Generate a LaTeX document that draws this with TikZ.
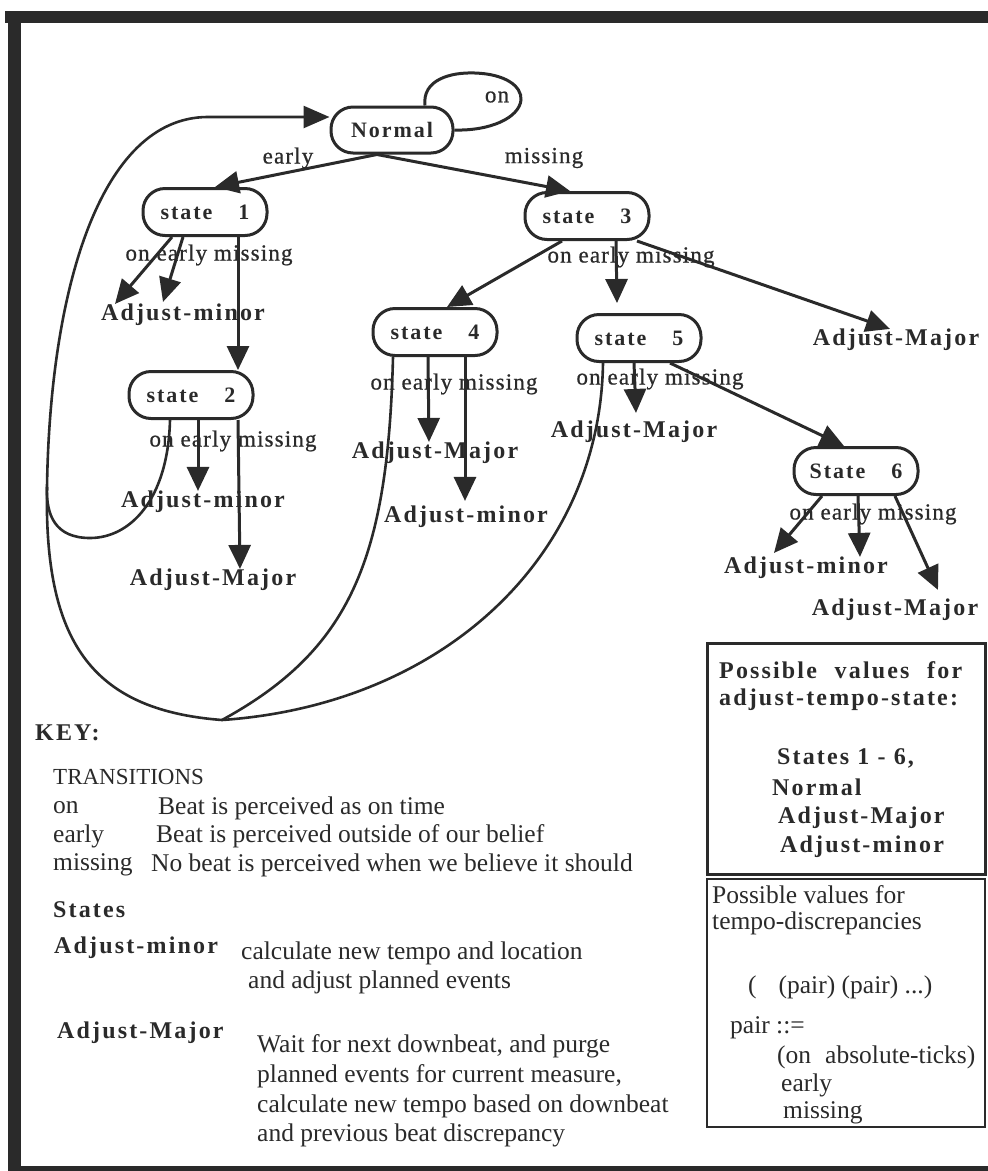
\documentclass[tikz,border=0pt]{standalone}
\usepackage{fontspec}
\setmainfont{Liberation Serif}
\newfontfamily\lblfont[LetterSpace=9]{Liberation Serif}
\newfontfamily\trfont[LetterSpace=5,FakeBold=0.7]{Liberation Serif}
\usetikzlibrary{arrows.meta}
\definecolor{ink}{HTML}{2A2A2A}

\begin{document}
\begin{tikzpicture}[x=1pt,y=-1pt,
  stbox/.style={draw=ink, line width=3pt, rounded corners=22pt,
    minimum width=124pt, minimum height=47pt, inner sep=0pt, text=ink,
    font=\lblfont\bfseries\fontsize{22}{25}\selectfont},
  outlbl/.style={inner sep=0pt, text=ink,
    font=\lblfont\bfseries\fontsize{24}{27}\selectfont},
  trlbl/.style={inner sep=0pt, text=ink,
    font=\trfont\fontsize{23}{26}\selectfont},
  body/.style={inner sep=0pt, anchor=west, text=ink,
    font=\fontsize{25.5}{28}\selectfont},
  keyhead/.style={inner sep=0pt, anchor=west, text=ink,
    font=\lblfont\bfseries\fontsize{24}{27}\selectfont},
  trans/.style={draw=ink, line width=3pt, -{Triangle[length=24pt,width=22pt]}},
  ret/.style={draw=ink, line width=2.6pt},
  valbox/.style={draw=ink, inner sep=0pt, minimum width=278pt}
]
\useasboundingbox (0,0) rectangle (988,1171);

% heavy frame
\fill[ink] (5,11) rectangle (988,23);
\fill[ink] (8,11) rectangle (21,1171);
\fill[ink] (8,1166) rectangle (988,1171);

% states
\node[stbox, minimum width=122pt, minimum height=46pt] (normal) at (392,130) {Normal};
\node[stbox] (s1) at (205,212) {state\hspace{26pt}1};
\node[stbox] (s2) at (191,395) {state\hspace{26pt}2};
\node[stbox] (s3) at (587,216) {state\hspace{26pt}3};
\node[stbox] (s4) at (435,332) {state\hspace{26pt}4};
\node[stbox] (s5) at (639,338) {state\hspace{26pt}5};
\node[stbox] (s6) at (856,471) {State\hspace{26pt}6};

% transition labels
\node[trlbl] (lon) at (497,97) {on};
\node[trlbl] (learly) at (288,158) {early};
\node[trlbl] (lmiss) at (544,158) {missing};
\node[trlbl] (t1) at (209,255) {on early missing};
\node[trlbl] (t2) at (233,441) {on early missing};
\node[trlbl] (t3) at (631,257) {on early missing};
\node[trlbl] (t4) at (454,384) {on early missing};
\node[trlbl] (t5) at (660,379) {on early missing};
\node[trlbl] (t6) at (873,514) {on early missing};

% outcomes
\node[outlbl] (a1) at (183,315) {Adjust-minor};
\node[outlbl] (a2m) at (203,502) {Adjust-minor};
\node[outlbl] (a2M) at (213,580) {Adjust-Major};
\node[outlbl] (a3M) at (896,340) {Adjust-Major};
\node[outlbl] (a4M) at (435,453) {Adjust-Major};
\node[outlbl] (a4m) at (466,517) {Adjust-minor};
\node[outlbl] (a5M) at (634,432) {Adjust-Major};
\node[outlbl] (a6m) at (806,568) {Adjust-minor};
\node[outlbl] (a6M) at (895,610) {Adjust-Major};

% Normal
\draw[ret, line width=3pt] ([xshift=33pt]normal.north) .. controls (422,80) and (450,72) .. (475,73)
  .. controls (505,74) and (522,86) .. (521,100)
  .. controls (519,118) and (490,131) .. (normal.east);
\draw[trans] ([xshift=-15pt]normal.south) -- ([xshift=10pt]s1.north);
\draw[trans] ([xshift=-15pt]normal.south) -- ([xshift=-17pt]s3.north);

% state 1
\draw[trans] ([xshift=-33pt]s1.south) -- ([xshift=-68pt]a1.north);
\draw[trans] ([xshift=-22pt]s1.south) -- ([xshift=-20pt,yshift=2pt]a1.north);
\draw[trans] ([xshift=33pt]s1.south) -- ([xshift=47pt]s2.north);

% state 2
\draw[trans] ([xshift=7pt]s2.south) -- ([xshift=-5pt]a2m.north);
\draw[trans] ([xshift=47pt]s2.south) -- ([xshift=27pt]a2M.north);

% state 3
\draw[trans] ([xshift=-25pt]s3.south) -- ([xshift=12pt]s4.north);
\draw[trans] ([xshift=29pt]s3.south) -- ([xshift=-22pt,yshift=10pt]s5.north);
\draw[trans] ([xshift=50pt]s3.south) -- ([xshift=-6pt]a3M.north);

% state 4
\draw[trans] ([xshift=-7pt]s4.south) -- ([xshift=-6pt]a4M.north);
\draw[trans] ([xshift=30pt]s4.south) -- ([xshift=-1pt,yshift=5pt]a4m.north);

% state 5
\draw[trans] ([xshift=-5pt]s5.south) -- ([xshift=2pt,yshift=8pt]a5M.north);
\draw[trans] ([xshift=31pt]s5.south) -- ([xshift=-12pt]s6.north);

% state 6
\draw[trans] ([xshift=-34pt]s6.south) -- ([xshift=-32pt,yshift=4pt]a6m.north);
\draw[trans] ([xshift=2pt]s6.south) -- ([xshift=54pt]a6m.north);
\draw[trans] ([xshift=39pt]s6.south) -- ([xshift=43pt,yshift=9pt]a6M.north);

% "on" returns to Normal
\coordinate (merge) at (222,720);
\coordinate (bend) at (47,487);
\draw[ret] ([xshift=-21pt]s2.south) .. controls (168,500) and (130,538) .. (90,538)
  .. controls (55,538) and (46,515) .. (bend);
\draw[ret] ([xshift=-42pt]s4.south) .. controls (388,560) and (350,650) .. (merge);
\draw[ret] ([xshift=-36pt]s5.south) .. controls (600,560) and (440,705) .. (merge);
\draw[ret, -{Triangle[length=26pt,width=22pt]}] (merge) .. controls (90,710) and (44,640) .. (bend)
  .. controls (50,290) and (100,118) .. (207,117) -- ([yshift=13pt]normal.west);

% value boxes
\node[valbox, line width=3pt, minimum height=231pt] (box1) at (846,758.5) {};
\node[keyhead] (b1a) at (719,670) {\makebox[243pt][l]{Possible\hfill values\hfill for}};
\node[keyhead] (b1b) at (719,700) {adjust-tempo-state:};
\node[keyhead] (b1c) at (777,758) {States 1 - 6,};
\node[keyhead] (b1d) at (772,787) {Normal};
\node[keyhead] (b1e) at (778,818) {Adjust-Major};
\node[keyhead] (b1f) at (780,847) {Adjust-minor};

\node[valbox, line width=2.6pt, minimum height=248pt] (box2) at (846,1003) {};
\node[body] (b2a) at (712,895) {Possible values for};
\node[body] (b2b) at (712,923) {tempo-discrepancies};
\node[body] (b2c) at (748,987) {(\hspace{22pt}(pair) (pair) ...)};
\node[body] (b2d) at (730,1028) {pair ::=};
\node[body] (b2e) at (777,1057) {(on\hspace{14pt}absolute-ticks)};
\node[body] (b2f) at (781,1085) {early};
\node[body] (b2g) at (783,1113) {missing};

% key
\node[keyhead] (key) at (35,733) {KEY:};
\node[body, font=\fontsize{23}{26}\selectfont] (trh) at (53,777) {TRANSITIONS};
\node[body] (kon) at (53,808) {on};
\node[body] (kond) at (158,808) {Beat is perceived as on time};
\node[body] (kea) at (53,836) {early};
\node[body] (kead) at (156,836) {Beat is perceived outside of our belief};
\node[body] (kmi) at (53,865) {missing};
\node[body] (kmid) at (151,865) {No beat is perceived when we believe it should};
\node[keyhead] (sth) at (53,910) {States};
\node[keyhead] (kmin) at (54,948) {Adjust-minor};
\node[body] (kmin1) at (241,953) {calculate new tempo and location};
\node[body] (kmin2) at (248,982) {and adjust planned events};
\node[keyhead] (kmaj) at (57,1033) {Adjust-Major};
\node[body] (kmaj1) at (257,1046) {Wait for next downbeat, and purge};
\node[body] (kmaj2) at (257,1076) {planned events for current measure,};
\node[body] (kmaj3) at (257,1106) {calculate new tempo based on downbeat};
\node[body] (kmaj4) at (257,1135) {and previous beat discrepancy};
\end{tikzpicture}
\end{document}
